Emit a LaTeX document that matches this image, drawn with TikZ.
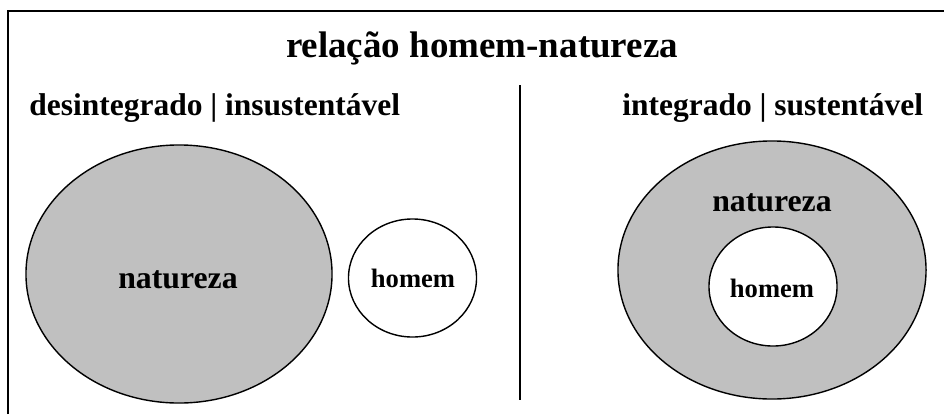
\documentclass[tikz,border=0pt]{standalone}
\usepackage{fontspec}
\setmainfont{Liberation Serif}
\usepackage{tikz}
\usetikzlibrary{shapes.geometric,positioning}
\definecolor{natgray}{RGB}{192,192,192}
\tikzset{
    nature/.style={
    ellipse,draw=black,fill=natgray,line width=1pt,inner sep=0pt
    },
    human/.style={
    ellipse,draw=black,fill=white,line width=1pt,inner sep=0pt,minimum width=3.2cm,minimum height=2.95cm
    },
    titletxt/.style={
    font=\bfseries\fontsize{26.3}{30}\selectfont,inner sep=0pt
    },
    headtxt/.style={
    font=\bfseries\fontsize{22.4}{26}\selectfont,inner sep=0pt
    },
    bigtxt/.style={
    font=\bfseries\fontsize{22.6}{26}\selectfont,inner sep=0pt
    },
    smalltxt/.style={
    font=\bfseries\fontsize{18.9}{22}\selectfont,inner sep=0pt
    },
}
\begin{document}
\begin{tikzpicture}[x=0.025cm, y=-0.025cm]
   \useasboundingbox (0,0) rectangle (944,414);

   %frame
   \coordinate (fbl) at (8,414);
   \coordinate (ftl) at (8,11);
   \coordinate (ftr) at (944,11);
   \draw[line width=1pt] (fbl) -- (ftl) -- (ftr);

   %titles
   \node[titletxt,anchor=base] (title) at (482,57) {relação homem-natureza};
   \node[headtxt,anchor=base west] (headL) at (29,115) {desintegrado | insustentável};
   \node[headtxt,anchor=base west] (headR) at (622,115) {integrado | sustentável};

   %divider
   \coordinate (divtop) at (520,85);
   \coordinate (divbot) at (520,400);
   \draw[line width=1pt] (divtop) -- (divbot);

   %desintegrado
   \node[nature,minimum width=7.65cm,minimum height=6.45cm] (natL) at (179,274) {};
   \node[bigtxt,anchor=base] (natLtxt) at (178,288) {natureza};
   \node[human] (homL) at (412.5,278) {};
   \node[smalltxt,anchor=base] (homLtxt) at (413,287) {homem};

   %integrado
   \node[nature,minimum width=7.7cm,minimum height=6.45cm] (natR) at (772,270) {};
   \node[bigtxt,anchor=base] (natRtxt) at (772,211) {natureza};
   \node[human,minimum width=3.2cm,minimum height=2.975cm] (homR) at (773,286.5) {};
   \node[smalltxt,anchor=base] (homRtxt) at (772,297) {homem};
\end{tikzpicture}
\end{document}
